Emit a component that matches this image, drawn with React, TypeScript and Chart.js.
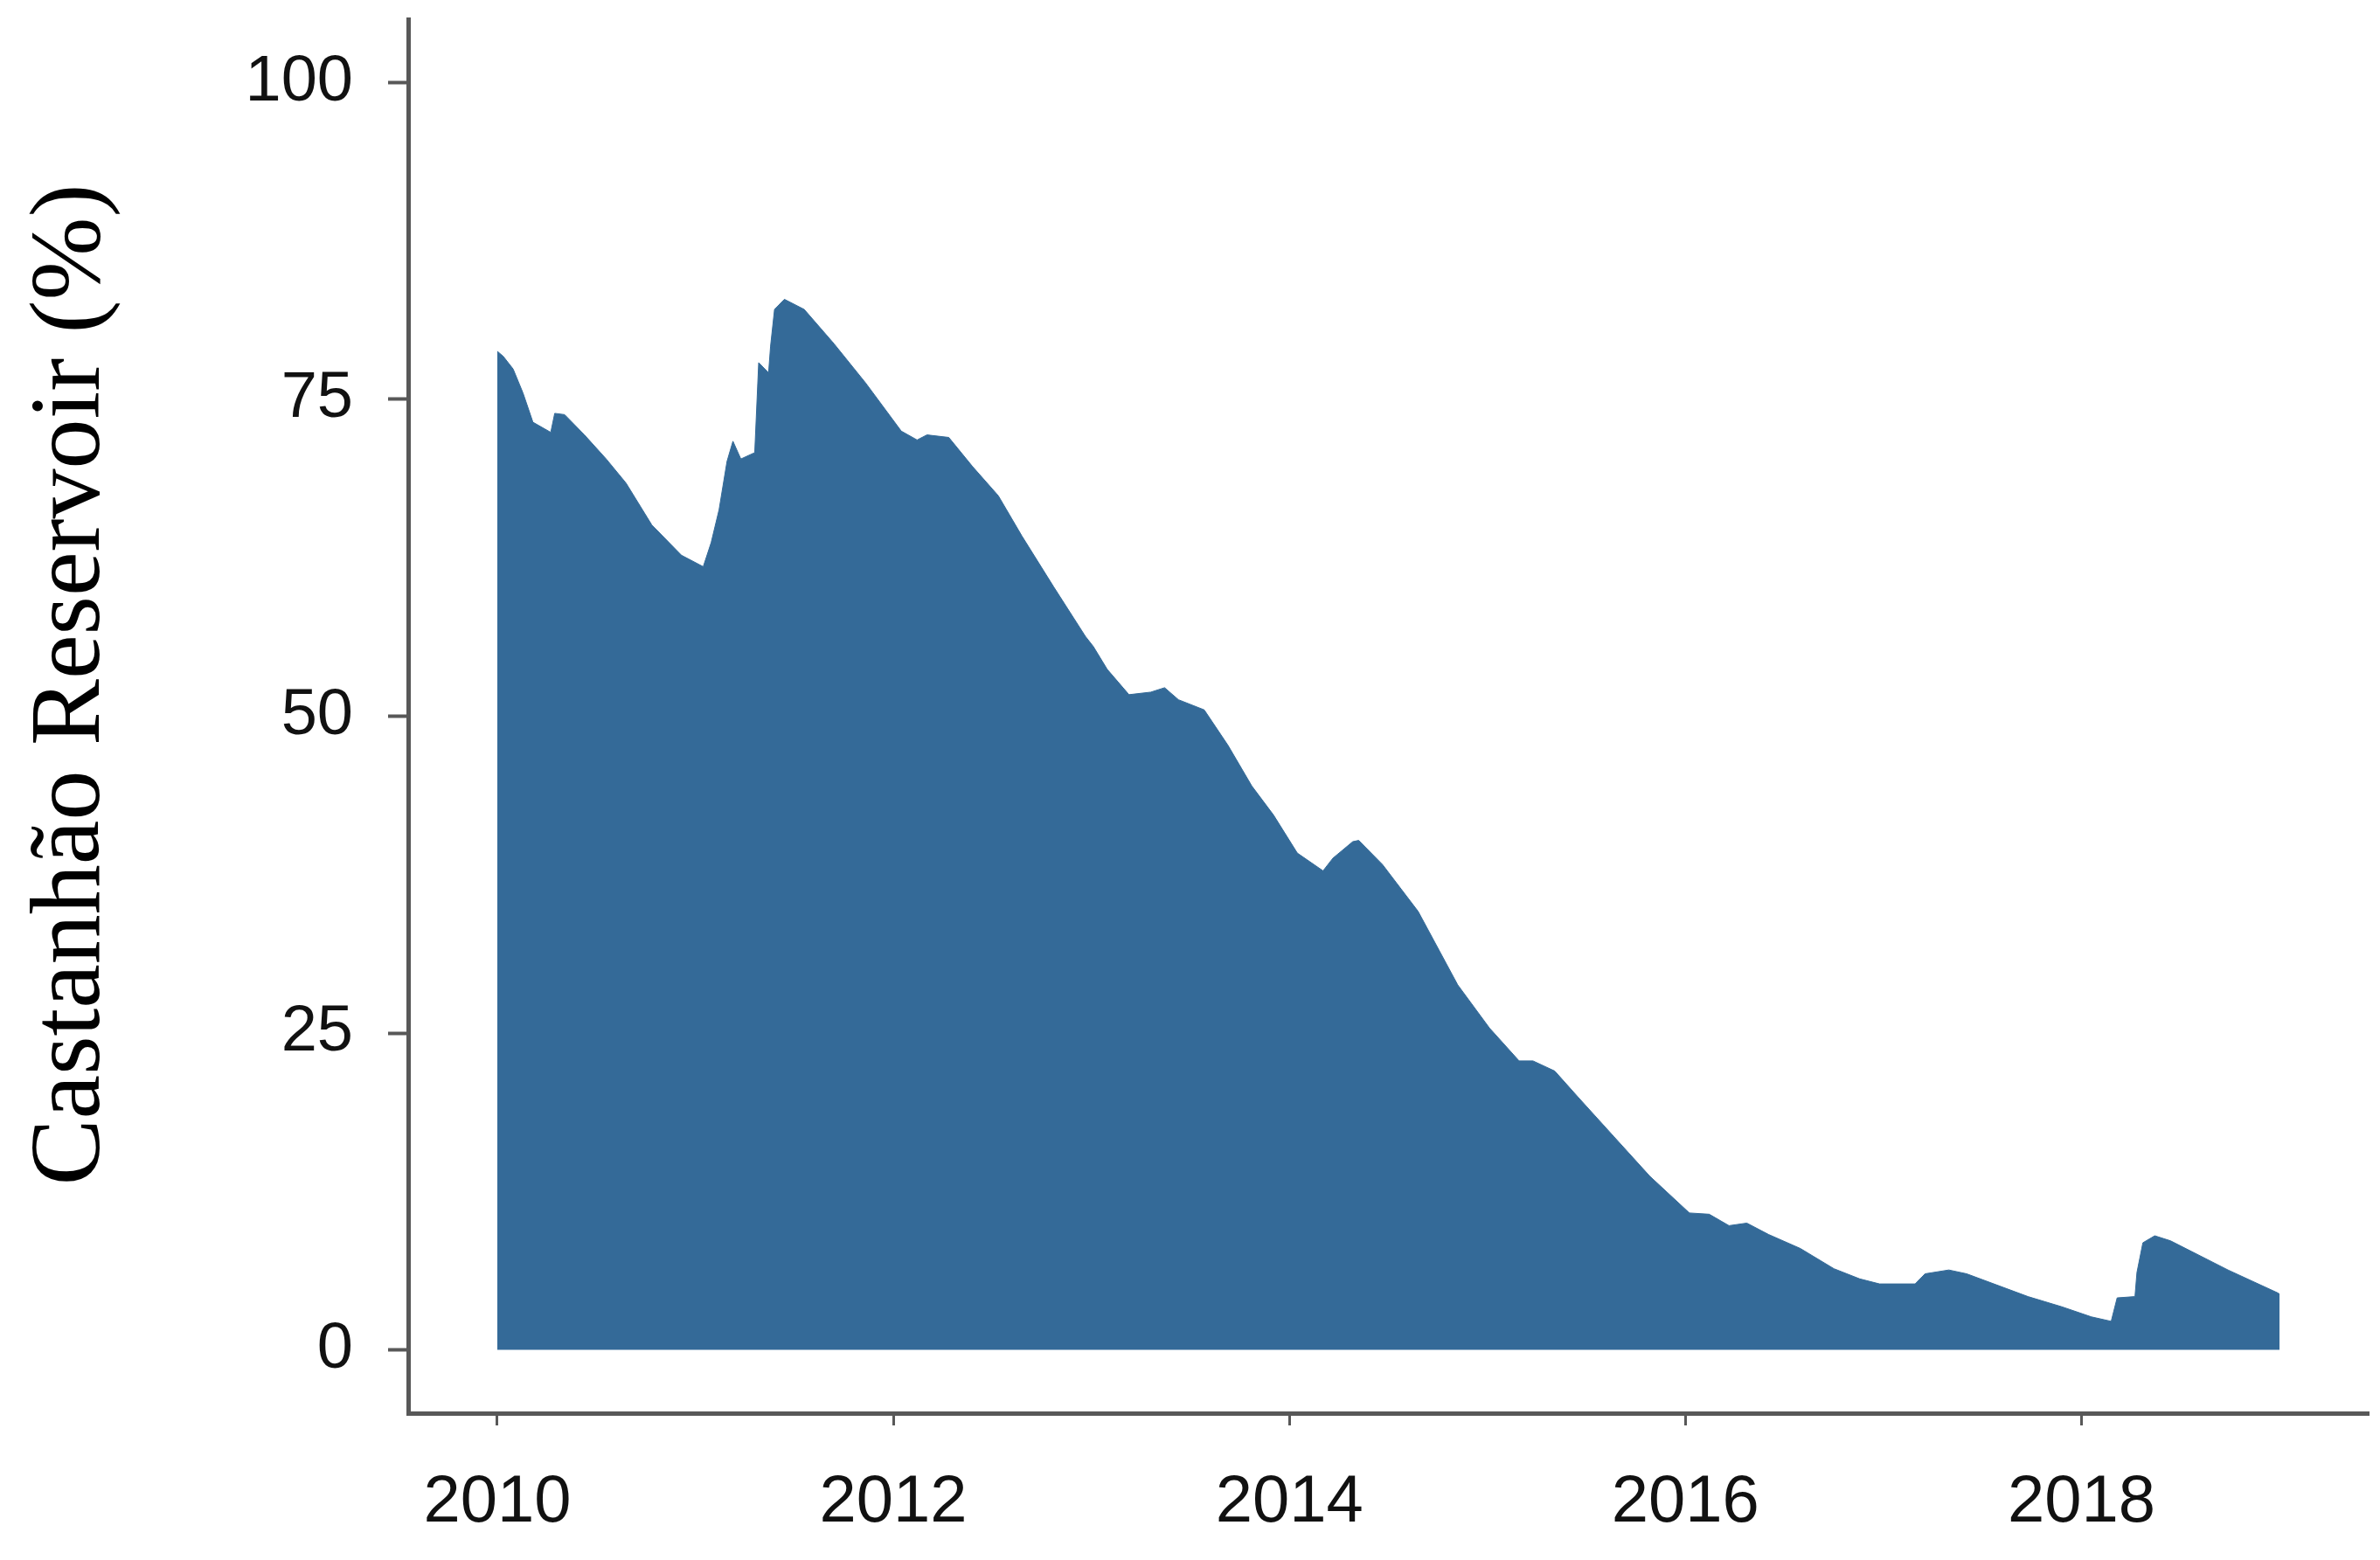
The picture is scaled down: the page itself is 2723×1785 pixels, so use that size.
import React, { useEffect, useRef } from 'react';
import { Chart, registerables } from 'chart.js';

Chart.register(...registerables);

// Decimal year of each reading
const years: number[] = [
  2010.0, 2010.03, 2010.08, 2010.13, 2010.18, 2010.27, 2010.29, 2010.34, 2010.44, 2010.55,
  2010.65, 2010.78, 2010.93, 2011.04, 2011.08, 2011.12, 2011.16, 2011.19, 2011.23, 2011.3,
  2011.32, 2011.37, 2011.38, 2011.4, 2011.45, 2011.55, 2011.7, 2011.86, 2012.04, 2012.12,
  2012.17, 2012.28, 2012.4, 2012.53, 2012.65, 2012.81, 2012.97, 2013.01, 2013.08, 2013.19,
  2013.3, 2013.37, 2013.44, 2013.57, 2013.69, 2013.81, 2013.92, 2014.04, 2014.17, 2014.22,
  2014.32, 2014.35, 2014.47, 2014.65, 2014.85, 2015.01, 2015.16, 2015.23, 2015.34, 2015.46,
  2015.64, 2015.82, 2016.02, 2016.12, 2016.22, 2016.31, 2016.42, 2016.58, 2016.75, 2016.88,
  2016.98, 2017.16, 2017.21, 2017.33, 2017.42, 2017.73, 2017.9, 2018.05, 2018.15, 2018.18,
  2018.27, 2018.28, 2018.31, 2018.37, 2018.45, 2018.74, 2018.99, 2019.0,
];

// Reservoir storage (%)
const storagePct: number[] = [
  78.8, 78.4, 77.4, 75.5, 73.2, 72.4, 73.9, 73.8, 72.2, 70.3,
  68.4, 65.1, 62.7, 61.8, 63.7, 66.3, 70.1, 71.7, 70.3, 70.8,
  77.9, 77.1, 79.2, 82.1, 82.9, 82.1, 79.4, 76.3, 72.5, 71.8,
  72.2, 72.0, 69.7, 67.4, 64.2, 60.2, 56.3, 55.5, 53.7, 51.7,
  51.9, 52.25, 51.3, 50.5, 47.7, 44.5, 42.2, 39.2, 37.8, 38.8,
  40.1, 40.2, 38.3, 34.6, 28.8, 25.4, 22.8, 22.8, 22.0, 19.9,
  16.8, 13.7, 10.8, 10.7, 9.8, 10.0, 9.1, 8.0, 6.4, 5.6,
  5.2, 5.2, 6.0, 6.3, 6.0, 4.2, 3.4, 2.6, 2.25, 4.1,
  4.2, 6.1, 8.45, 9.0, 8.6, 6.3, 4.5, 4.4,
];

const xTickYears: number[] = [2010, 2012, 2014, 2016, 2018];
const yTickValues: number[] = [0, 25, 50, 75, 100];
const yAxisTitle = 'Castanhão Reservoir (%)';

// Draws the y-axis title (rotated) slightly above the plot-area centre, as in the source figure
const yTitlePlugin = {
  id: 'yTitle',
  afterDraw(chart: any) {
    const { ctx, chartArea } = chart;
    ctx.save();
    ctx.font = "114px 'Liberation Serif', 'Times New Roman', serif";
    ctx.fillStyle = '#000';
    ctx.textAlign = 'center';
    ctx.textBaseline = 'alphabetic';
    const cy = (chartArea.top + chartArea.bottom) / 2 - 36;
    ctx.translate(113, cy);
    ctx.rotate(-Math.PI / 2);
    ctx.fillText(yAxisTitle, 0, 0);
    ctx.restore();
  },
};

export default function App() {
  const canvasRef = useRef<HTMLCanvasElement>(null);

  useEffect(() => {
    document.body.style.margin = '0';
    const canvas = canvasRef.current;
    if (!canvas) return;
    const axisColor = '#585858';
    const chart = new Chart(canvas, {
      type: 'line',
      data: {
        datasets: [
          {
            data: years.map((x, i) => ({ x, y: storagePct[i] })),
            fill: 'origin',
            backgroundColor: '#346a98',
            borderColor: '#346a98',
            borderWidth: 1,
            pointRadius: 0,
            tension: 0,
          },
        ],
      },
      options: {
        animation: false,
        responsive: false,
        devicePixelRatio: 1,
        layout: { padding: { top: 22, right: 13, left: 0, bottom: 0 } },
        plugins: { legend: { display: false }, tooltip: { enabled: false } },
        scales: {
          x: {
            type: 'linear',
            min: 2009.55,
            max: 2019.45,
            afterBuildTicks: (s: any) => {
              s.ticks = xTickYears.map((v) => ({ value: v }));
            },
            afterFit: (s: any) => {
              s.height = 168;
              s.paddingLeft = 0;
              s.paddingRight = 0;
            },
            grid: {
              display: true,
              drawOnChartArea: false,
              drawTicks: true,
              tickLength: 14,
              tickColor: axisColor,
              tickWidth: 3,
            },
            border: { display: true, color: axisColor, width: 5 },
            ticks: {
              autoSkip: false,
              maxRotation: 0,
              padding: 43,
              color: '#111',
              font: { family: "'Liberation Sans', Arial, sans-serif", size: 76 },
              callback: (v: any) => String(v),
            },
          },
          y: {
            type: 'linear',
            min: -5,
            max: 105,
            afterBuildTicks: (s: any) => {
              s.ticks = yTickValues.map((v) => ({ value: v }));
            },
            afterFit: (s: any) => {
              s.width = 467;
              s.paddingTop = 0;
              s.paddingBottom = 0;
            },
            grid: {
              display: true,
              drawOnChartArea: false,
              drawTicks: true,
              tickLength: 23,
              tickColor: axisColor,
              tickWidth: 4,
            },
            border: { display: true, color: axisColor, width: 5 },
            ticks: {
              autoSkip: false,
              padding: 40,
              color: '#111',
              font: { family: "'Liberation Sans', Arial, sans-serif", size: 74 },
              callback: (v: any) => String(v),
            },
            title: { display: false },
          },
        },
      },
      plugins: [yTitlePlugin],
    });
    return () => chart.destroy();
  }, []);

  return (
    <div style={{ position: 'absolute', left: 0, top: 0, width: 2723, height: 1785 }}>
      <canvas ref={canvasRef} width={2723} height={1785} style={{ display: 'block' }} />
    </div>
  );
}
